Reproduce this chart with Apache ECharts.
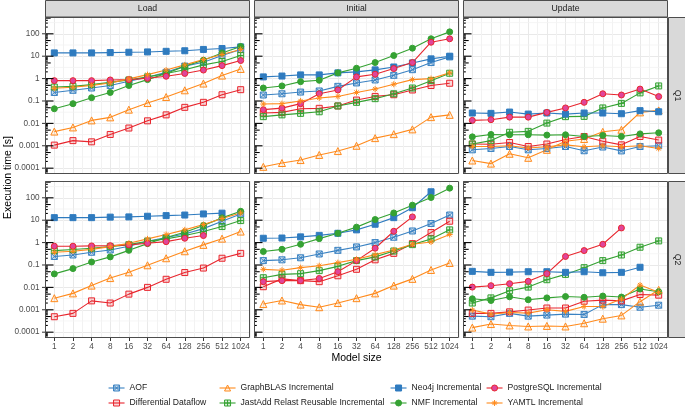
<!DOCTYPE html>
<html>
<head>
<meta charset="utf-8">
<script src="https://cdn.jsdelivr.net/npm/echarts@6/dist/echarts.min.js"></script>
<style>
html,body{margin:0;padding:0;background:#fff;}
#c{width:685px;height:410px;}
</style>
</head>
<body>
<div id="c"></div>
<script>
// ---------------- data ----------------
const modelSizes = ['1','2','4','8','16','32','64','128','256','512','1024'];
const phases = ['Load','Initial','Update'];
const queries = ['Q1','Q2'];
const toolNames = ['AOF','Differential Dataflow','GraphBLAS Incremental','JastAdd Relast Reusable Incremental',
                   'Neo4j Incremental','NMF Incremental','PostgreSQL Incremental','YAMTL Incremental'];
const yTickLabels = ['0.0001','0.001','0.01','0.1','1','10','100'];

// Each panel: rows in toolNames order, values per model size (seconds)
const load_Q1 = [
  [0.24,0.30,0.38,0.49,0.76,1.15,1.9,3.6,5.4,10.7,20],
  [0.00107,0.0017,0.0015,0.0032,0.0062,0.013,0.024,0.052,0.087,0.19,0.32],
  [0.0043,0.0066,0.0136,0.0186,0.041,0.081,0.15,0.30,0.6,1.36,2.7],
  [0.42,0.45,0.54,0.68,0.87,1.19,1.7,2.5,4.1,5.8,10.7],
  [14,14,14,14.5,15,15.5,16.5,17.5,20,22,26],
  [0.045,0.076,0.14,0.24,0.49,0.9,1.7,3.6,6.6,14,27],
  [0.81,0.81,0.81,0.87,0.9,1.03,1.27,1.7,2.4,3.8,6.4],
  [0.37,0.41,0.5,0.64,0.97,1.5,2.4,4.1,7.1,11.9,20]
];
const initial_Q1 = [
  [0.185,0.21,0.25,0.28,0.45,0.64,0.87,1.4,2.5,5.2,9.3],
  [0.029,0.031,0.045,0.047,0.06,0.11,0.16,0.19,0.31,0.49,0.62],
  [0.000115,0.00017,0.00023,0.00039,0.00058,0.001,0.0022,0.0033,0.0054,0.019,0.024],
  [0.02,0.024,0.028,0.033,0.06,0.087,0.127,0.21,0.38,0.81,1.73],
  [1.19,1.3,1.46,1.46,1.8,2.0,2.45,3.3,5.0,7.6,10],
  [0.38,0.47,0.73,0.84,1.8,2.9,5.2,10.7,22.8,60,122],
  [0.041,0.048,0.076,0.21,0.31,1.19,1.56,2.8,5.2,42,60],
  [0.073,0.076,0.10,0.137,0.16,0.24,0.34,0.56,0.9,1.0,1.8]
];
const update_Q1 = [
  [0.00066,0.00076,0.00093,0.00066,0.00076,0.00093,0.0006,0.00088,0.00059,0.00093,0.001],
  [0.0012,0.00117,0.0014,0.00093,0.0012,0.0019,0.0026,0.0016,0.0011,0.0026,0.0018],
  [0.00022,0.00016,0.00044,0.00029,0.00066,0.0016,0.002,0.0042,0.0052,0.031,0.038],
  [0.0012,0.0017,0.004,0.0044,0.0103,0.02,0.0205,0.049,0.078,0.23,0.47],
  [0.029,0.028,0.032,0.026,0.029,0.026,0.029,0.029,0.027,0.037,0.033],
  [0.0025,0.0032,0.0031,0.0031,0.003,0.0031,0.0026,0.0029,0.0026,0.0034,0.0038],
  [0.0136,0.0146,0.019,0.019,0.031,0.049,0.087,0.21,0.185,0.34,0.157],
  [0.00093,0.00093,0.001,0.0008,0.0009,0.0011,0.0009,0.001,0.0009,0.001,0.00076]
];
const load_Q2 = [
  [0.24,0.28,0.37,0.47,0.69,1.15,1.7,2.4,4.2,9,19],
  [0.00049,0.00069,0.0025,0.002,0.005,0.01,0.023,0.046,0.073,0.2,0.33],
  [0.0033,0.0054,0.012,0.026,0.047,0.097,0.2,0.41,0.79,1.5,3.1],
  [0.44,0.49,0.56,0.66,0.81,1.15,1.46,2.06,3.1,5.2,9.6],
  [13,13,13,13.7,14,15,16,17,19,20.6,null],
  [0.04,0.069,0.136,0.23,0.45,0.9,1.7,2.9,5.8,12.7,25],
  [0.69,0.69,0.71,0.73,0.79,0.93,1.1,1.56,2.06,null,null],
  [0.37,0.41,0.5,0.66,0.93,1.46,2.3,3.7,6.4,11.9,21]
];
const initial_Q2 = [
  [0.157,0.17,0.21,0.31,0.45,0.64,1.0,1.73,3.3,7.1,17],
  [0.0107,0.024,0.02,0.018,0.033,0.064,0.17,0.33,0.9,2.8,9],
  [0.0018,0.0026,0.0017,0.0013,0.002,0.0033,0.0054,0.012,0.024,0.06,0.123],
  [0.027,0.038,0.041,0.056,0.087,0.157,0.23,0.42,0.81,1.46,3.7],
  [1.56,1.6,1.8,2.1,2.6,3.7,6.6,13,36,186,null],
  [0.4,0.5,0.84,1.5,2.6,4.9,10.7,21,47,103,270],
  [0.018,0.02,0.02,0.025,0.05,0.157,0.56,3.2,14,null,null],
  [0.064,0.058,0.076,0.093,0.127,0.18,0.29,0.47,0.84,1.07,2.3]
];
const update_Q2 = [
  [0.00052,0.00049,0.00069,0.00052,0.00058,0.00064,0.00062,0.0017,0.0017,0.0013,0.0016],
  [0.00069,0.00069,0.00081,0.00097,0.0012,0.0012,0.0024,0.0027,0.0025,0.0048,0.0045],
  [0.00016,0.00023,0.0002,0.00018,0.00019,0.00018,0.00025,0.0004,0.00056,0.0023,0.0078],
  [0.002,0.0034,0.0071,0.0103,0.022,0.038,0.076,0.157,0.28,0.62,1.19],
  [0.052,0.047,0.048,0.05,0.05,0.047,0.05,0.045,0.047,0.079,null],
  [0.0031,0.0026,0.0038,0.0028,0.0034,0.0039,0.0036,0.0041,0.0037,0.0085,0.0064],
  [0.0103,0.0119,0.0146,0.0186,0.041,0.24,0.44,0.84,4.5,null,null],
  [0.00097,0.00064,0.00076,0.00071,0.001,0.00085,0.0014,0.0014,0.003,0.0127,0.006]
];

// log-tick decoration (axis ornaments, not data)
const tickDecades = [-5,-4,-3,-2,-1,0,1,2];
const tickMultipliers = [1,2,3,4,5,6,7,8,9];

// ---------------- layout / style ----------------
const FONT = '"Liberation Sans", Arial, Helvetica, sans-serif';
const TICK_FS = 8.2, LEG_FS = 8.6, STRIP_FS = 8.7, TITLE_FS = 10.5;
const colLeft = [45, 254, 463];
const colW = 205;
const rowTop = [17, 181];
const rowH = 157;
const yMin = Math.pow(10, -4.26);
const yMax = Math.pow(10, 2.75);

const BLUE = '#3a82c2', BLUE2 = '#2f7bbf', ORANGE = '#ff8a1c', RED = '#e8262e', GREEN = '#35a233';
const sqX = 'path://M0,0H10V10H0Z M0,0L10,10 M10,0L0,10';
const sqPlus = 'path://M0,0H10V10H0Z M5,0V10 M0,5H10';
const aster = 'path://M5,0V10 M0,5H10 M1.5,1.5L8.5,8.5 M8.5,1.5L1.5,8.5';
const toolStyles = [
  {line: BLUE, symbol: sqX, size: 6, fill: 'rgba(58,130,194,0.25)', border: BLUE},
  {line: RED, symbol: 'rect', size: 6, fill: 'rgba(232,38,46,0.18)', border: RED},
  {line: ORANGE, symbol: 'triangle', size: 7, fill: 'rgba(255,138,28,0.12)', border: ORANGE},
  {line: GREEN, symbol: sqPlus, size: 6, fill: 'rgba(53,162,51,0.18)', border: GREEN},
  {line: BLUE2, symbol: 'rect', size: 6, fill: BLUE2, border: BLUE2},
  {line: GREEN, symbol: 'circle', size: 6, fill: GREEN, border: GREEN},
  {line: RED, symbol: 'circle', size: 6, fill: '#e0459a', border: RED},
  {line: ORANGE, symbol: aster, size: 6, fill: 'rgba(0,0,0,0)', border: ORANGE}
];

const panelData = [[load_Q1, initial_Q1, update_Q1], [load_Q2, initial_Q2, update_Q2]];

const grids = [], xAxes = [], yAxes = [], series = [], graphics = [];

// decoration data
const logTicks = [];
tickDecades.forEach(d => tickMultipliers.forEach(m => {
  const v = m * Math.pow(10, d);
  if (v > yMin && v < yMax) logTicks.push([0, v, m === 1 ? 3 : (m === 5 ? 2 : 1)]);
}));
const halfGrid = [];
tickDecades.forEach(d => {
  const v = Math.pow(10, d + 0.5);
  if (v > yMin && v < yMax) halfGrid.push([0, v, 0]);
});
const outerTicks = [];
tickDecades.forEach(d => {
  const v = Math.pow(10, d);
  if (v > yMin && v < yMax) outerTicks.push([0, v, 4]);
});

function renderDeco(params, api) {
  const cs = params.coordSys;
  const y = api.coord([0, api.value(1)])[1];
  const k = api.value(2);
  if (k === 0) {
    return {type: 'line', silent: true, shape: {x1: cs.x, y1: y, x2: cs.x + cs.width, y2: y},
            style: {stroke: '#f2f2f2', lineWidth: 0.8}};
  }
  if (k === 4) {
    return {type: 'line', silent: true, shape: {x1: cs.x - 3, y1: y, x2: cs.x, y2: y},
            style: {stroke: '#333', lineWidth: 1}};
  }
  const len = k === 3 ? 8.5 : (k === 2 ? 5.7 : 2.8);
  return {type: 'line', silent: true, shape: {x1: cs.x, y1: y, x2: cs.x + len, y2: y},
          style: {stroke: '#000', lineWidth: 1.1}};
}

let gi = 0;
for (let r = 0; r < 2; r++) {
  for (let c = 0; c < 3; c++) {
    const left = colLeft[c], top = rowTop[r];
    grids.push({left: left, top: top, width: colW, height: rowH, show: false, containLabel: false, outerBoundsMode: 'none'});
    const bottomRow = r === 1;
    xAxes.push({
      type: 'category', gridIndex: gi, data: modelSizes, boundaryGap: true,
      axisLine: {show: false},
      axisTick: {show: bottomRow, alignWithLabel: true, length: 3, interval: 0, lineStyle: {color: '#333', width: 1}},
      axisLabel: {show: bottomRow, interval: 0, margin: 4.5, fontSize: TICK_FS, color: '#4d4d4d', fontFamily: FONT, hideOverlap: false},
      splitLine: {show: false}
    });
    // hidden value axis only for vertical grid lines (major at category centres, minor between)
    xAxes.push({
      type: 'value', gridIndex: gi, min: -0.5, max: 10.5, interval: 0.5,
      axisLine: {show: false}, axisTick: {show: false}, axisLabel: {show: false},
      splitLine: {show: true, lineStyle: {color: ['#f2f2f2', '#e9e9e9'], width: 1}}
    });
    yAxes.push({
      type: 'log', logBase: 10, gridIndex: gi, min: yMin, max: yMax,
      axisLine: {show: false}, axisTick: {show: false},
      axisLabel: {show: c === 0, margin: 5.5, fontSize: TICK_FS, color: '#4d4d4d', fontFamily: FONT,
                  showMinLabel: false, showMaxLabel: false,
                  formatter: v => yTickLabels[Math.round(Math.log10(v)) + 4] || ''},
      splitLine: {show: true, showMinLine: false, showMaxLine: false, lineStyle: {color: '#e9e9e9', width: 1}}
    });
    const xi = gi * 2;
    series.push({type: 'custom', xAxisIndex: xi, yAxisIndex: gi, silent: true, z: 1,
      dimensions: ['x','y','k'], encode: {x: 'x', y: 'y'}, data: halfGrid, renderItem: renderDeco, clip: false});
    const pd = panelData[r][c];
    toolNames.forEach((name, si) => {
      const st = toolStyles[si];
      series.push({
        type: 'line', name: name, xAxisIndex: xi, yAxisIndex: gi, data: pd[si],
        symbol: st.symbol, symbolSize: st.size, showSymbol: true, connectNulls: false,
        lineStyle: {color: st.line, width: 1.1},
        itemStyle: {color: st.fill, borderColor: st.border, borderWidth: 1},
        emphasis: {disabled: true}, z: 3
      });
    });
    series.push({type: 'custom', xAxisIndex: xi, yAxisIndex: gi, silent: true, z: 5,
      dimensions: ['x','y','k'], encode: {x: 'x', y: 'y'},
      data: c === 0 ? logTicks.concat(outerTicks) : logTicks, renderItem: renderDeco, clip: false});

    graphics.push({type: 'rect', silent: true, z: 100,
      shape: {x: left + 0.5, y: top + 0.5, width: colW - 1, height: rowH - 1},
      style: {fill: 'none', stroke: '#4d4d4d', lineWidth: 1}});
    gi++;
  }
}

// top strips
phases.forEach((p, c) => {
  graphics.push({type: 'rect', silent: true, z: 100,
    shape: {x: colLeft[c] + 0.5, y: 0.5, width: colW - 1, height: rowTop[0] - 0.5},
    style: {fill: '#d9d9d9', stroke: '#4d4d4d', lineWidth: 1}});
  graphics.push({type: 'text', silent: true, z: 101, x: colLeft[c] + colW / 2, y: 9,
    style: {text: p, fill: '#1a1a1a', font: STRIP_FS + 'px ' + FONT, textAlign: 'center', textVerticalAlign: 'middle'}});
});
// right strips
queries.forEach((q, r) => {
  graphics.push({type: 'rect', silent: true, z: 100,
    shape: {x: colLeft[2] + colW + 0.5, y: rowTop[r] + 0.5, width: 17, height: rowH - 1},
    style: {fill: '#d9d9d9', stroke: '#4d4d4d', lineWidth: 1}});
  graphics.push({type: 'text', silent: true, z: 101, x: colLeft[2] + colW + 9, y: rowTop[r] + rowH / 2,
    rotation: -Math.PI / 2,
    style: {text: q, fill: '#1a1a1a', font: STRIP_FS + 'px ' + FONT, textAlign: 'center', textVerticalAlign: 'middle'}});
});
// axis titles
graphics.push({type: 'text', silent: true, x: 8, y: (rowTop[0] + rowTop[1] + rowH) / 2, rotation: Math.PI / 2,
  style: {text: 'Execution time [s]', fill: '#000', font: TITLE_FS + 'px ' + FONT, textAlign: 'center', textVerticalAlign: 'middle'}});
graphics.push({type: 'text', silent: true, x: (colLeft[0] + colLeft[2] + colW) / 2, y: 358,
  style: {text: 'Model size', fill: '#000', font: TITLE_FS + 'px ' + FONT, textAlign: 'center', textVerticalAlign: 'middle'}});

// legend: 4 columns x 2 rows, one legend component per entry
const legendColLeft = [108, 219, 390, 486];
const legendRowTop = [383.5, 398.5];
const legendOrder = [[0, 1], [2, 3], [4, 5], [6, 7]];
const legends = [];
legendOrder.forEach((pair, c) => pair.forEach((ti, r) => {
  const st = toolStyles[ti];
  legends.push({
    left: legendColLeft[c], top: legendRowTop[r], padding: 0,
    itemWidth: 16, itemHeight: 7.5, selectedMode: false, data: [toolNames[ti]],
    itemStyle: {color: st.fill, borderColor: st.border, borderWidth: 1},
    lineStyle: {color: st.line, width: 1.1},
    textStyle: {fontSize: LEG_FS, color: '#1a1a1a', fontFamily: FONT}
  });
}));

const chart = echarts.init(document.getElementById('c'));
chart.setOption({
  animation: false,
  backgroundColor: '#fff',
  textStyle: {fontFamily: FONT},
  grid: grids,
  xAxis: xAxes,
  yAxis: yAxes,
  legend: legends,
  graphic: {elements: graphics},
  series: series
});
</script>
</body>
</html>
